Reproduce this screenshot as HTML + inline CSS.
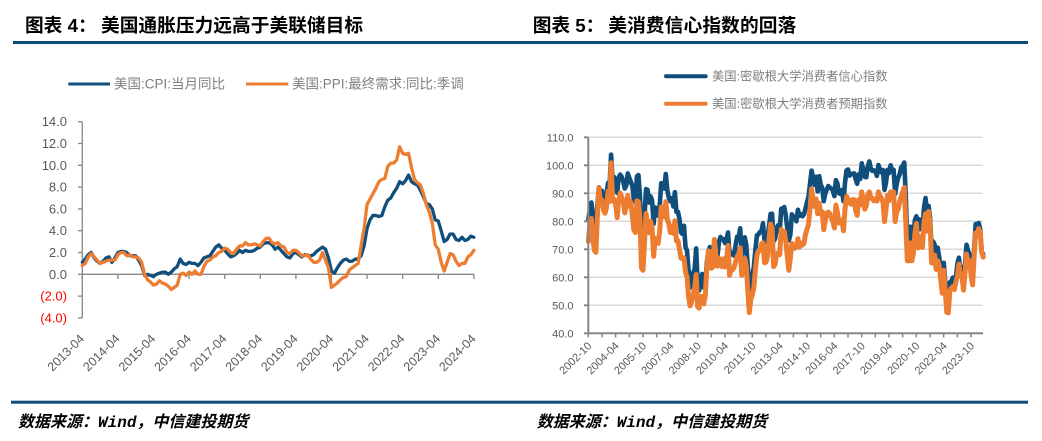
<!DOCTYPE html>
<html>
<head>
<meta charset="utf-8">
<style>
html,body{margin:0;padding:0;background:#fff;}
svg{display:block;}
text{font-family:"Liberation Sans","Noto Sans CJK SC",sans-serif;}
</style>
</head>
<body>
<svg width="1042" height="441" viewBox="0 0 1042 441" xmlns="http://www.w3.org/2000/svg">
<rect width="1042" height="441" fill="#fff"/>

<!-- Titles -->
<text x="25" y="32" font-size="18.7" font-weight="bold" fill="#000">图表 4：</text>
<text x="101" y="32" font-size="18.7" font-weight="bold" fill="#000" textLength="262" lengthAdjust="spacing">美国通胀压力远高于美联储目标</text>
<text x="532.7" y="32" font-size="18.7" font-weight="bold" fill="#000">图表 5：</text>
<text x="608.3" y="32" font-size="18.7" font-weight="bold" fill="#000" textLength="188" lengthAdjust="spacing">美消费信心指数的回落</text>

<rect x="13" y="41" width="1015" height="3" fill="#0f4c7a"/>
<rect x="11" y="400.7" width="1017" height="3" fill="#0f4c7a"/>

<!-- Source -->
<text x="18" y="427" font-size="16" font-weight="bold" font-style="italic" fill="#000">数据来源：<tspan font-family="'Liberation Mono',monospace">Wind</tspan>，中信建投期货</text>
<text x="536.7" y="427" font-size="16" font-weight="bold" font-style="italic" fill="#000">数据来源：<tspan font-family="'Liberation Mono',monospace">Wind</tspan>，中信建投期货</text>

<!-- ===== LEFT CHART ===== -->
<line x1="68.3" y1="84" x2="110" y2="84" stroke="#104e7c" stroke-width="3"/>
<text x="114" y="88.7" font-size="13.5" fill="#7f7f7f">美国:CPI:当月同比</text>
<line x1="246" y1="84" x2="288.3" y2="84" stroke="#ed7d31" stroke-width="3"/>
<text x="292" y="88.7" font-size="13.5" fill="#7f7f7f">美国:PPI:最终需求:同比:季调</text>

<g font-size="13" text-anchor="end">
<text x="67" y="126.2" fill="#595959">14.0</text>
<text x="67" y="148" fill="#595959">12.0</text>
<text x="67" y="169.8" fill="#595959">10.0</text>
<text x="67" y="191.6" fill="#595959">8.0</text>
<text x="67" y="213.4" fill="#595959">6.0</text>
<text x="67" y="235.2" fill="#595959">4.0</text>
<text x="67" y="257" fill="#595959">2.0</text>
<text x="67" y="278.8" fill="#595959">0.0</text>
<text x="67" y="300.6" fill="#ff0000">(2.0)</text>
<text x="67" y="322.4" fill="#ff0000">(4.0)</text>
</g>

<g stroke="#868686" stroke-width="1.3" fill="none">
<line x1="82.3" y1="121.7" x2="82.3" y2="318.1"/>
<line x1="78" y1="121.7" x2="82.3" y2="121.7"/>
<line x1="78" y1="143.5" x2="82.3" y2="143.5"/>
<line x1="78" y1="165.3" x2="82.3" y2="165.3"/>
<line x1="78" y1="187.1" x2="82.3" y2="187.1"/>
<line x1="78" y1="208.9" x2="82.3" y2="208.9"/>
<line x1="78" y1="230.7" x2="82.3" y2="230.7"/>
<line x1="78" y1="252.5" x2="82.3" y2="252.5"/>
<line x1="78" y1="274.3" x2="82.3" y2="274.3"/>
<line x1="78" y1="296.1" x2="82.3" y2="296.1"/>
<line x1="78" y1="317.9" x2="82.3" y2="317.9"/>
<line x1="82.3" y1="274.3" x2="474" y2="274.3"/>
<line x1="82.3" y1="274.3" x2="82.3" y2="279"/>
<line x1="117.9" y1="274.3" x2="117.9" y2="279"/>
<line x1="153.5" y1="274.3" x2="153.5" y2="279"/>
<line x1="189.1" y1="274.3" x2="189.1" y2="279"/>
<line x1="224.7" y1="274.3" x2="224.7" y2="279"/>
<line x1="260.3" y1="274.3" x2="260.3" y2="279"/>
<line x1="295.9" y1="274.3" x2="295.9" y2="279"/>
<line x1="331.5" y1="274.3" x2="331.5" y2="279"/>
<line x1="367.1" y1="274.3" x2="367.1" y2="279"/>
<line x1="402.7" y1="274.3" x2="402.7" y2="279"/>
<line x1="438.3" y1="274.3" x2="438.3" y2="279"/>
<line x1="473.9" y1="274.3" x2="473.9" y2="279"/>
</g>

<g font-size="12.5" fill="#595959" text-anchor="end">
<text transform="translate(85,339.5) rotate(-45)">2013-04</text>
<text transform="translate(120.6,339.5) rotate(-45)">2014-04</text>
<text transform="translate(156.2,339.5) rotate(-45)">2015-04</text>
<text transform="translate(191.8,339.5) rotate(-45)">2016-04</text>
<text transform="translate(227.4,339.5) rotate(-45)">2017-04</text>
<text transform="translate(263,339.5) rotate(-45)">2018-04</text>
<text transform="translate(298.6,339.5) rotate(-45)">2019-04</text>
<text transform="translate(334.2,339.5) rotate(-45)">2020-04</text>
<text transform="translate(369.8,339.5) rotate(-45)">2021-04</text>
<text transform="translate(405.4,339.5) rotate(-45)">2022-04</text>
<text transform="translate(441,339.5) rotate(-45)">2023-04</text>
<text transform="translate(476.6,339.5) rotate(-45)">2024-04</text>
</g>

<g transform="matrix(2.966 0 0 -10.9 82.3 274.3)" fill="none" stroke-linejoin="round" stroke-linecap="round">
<polyline vector-effect="non-scaling-stroke" stroke="#104e7c" stroke-width="3.3" points="0,1.1 1,1.4 2,1.8 3,2.0 4,1.5 5,1.2 6,1.0 7,1.2 8,1.5 9,1.6 10,1.1 11,1.5 12,2.0 13,2.1 14,2.1 15,2.0 16,1.7 17,1.7 18,1.7 19,1.3 20,0.8 21,-0.1 22,0.0 23,-0.1 24,-0.2 25,0.0 26,0.1 27,0.2 28,0.2 29,0.0 30,0.2 31,0.5 32,0.7 33,1.4 34,1.0 35,0.9 36,1.1 37,1.0 38,1.0 39,0.8 40,1.1 41,1.5 42,1.6 43,1.7 44,2.1 45,2.5 46,2.7 47,2.4 48,2.2 49,1.9 50,1.6 51,1.7 52,1.9 53,2.2 54,2.0 55,2.2 56,2.1 57,2.1 58,2.2 59,2.4 60,2.5 61,2.8 62,2.9 63,2.9 64,2.7 65,2.3 66,2.5 67,2.2 68,1.9 69,1.6 70,1.5 71,1.9 72,2.0 73,1.8 74,1.6 75,1.8 76,1.7 77,1.7 78,1.8 79,2.1 80,2.3 81,2.5 82,2.3 83,1.5 84,0.3 85,0.1 86,0.6 87,1.0 88,1.3 89,1.4 90,1.2 91,1.2 92,1.4 93,1.4 94,1.7 95,2.6 96,4.2 97,5.0 98,5.4 99,5.4 100,5.3 101,5.4 102,6.2 103,6.8 104,7.0 105,7.5 106,7.9 107,8.5 108,8.3 109,8.6 110,9.1 111,8.5 112,8.3 113,8.2 114,7.7 115,7.1 116,6.5 117,6.4 118,6.0 119,5.0 120,4.9 121,4.0 122,3.0 123,3.2 124,3.7 125,3.7 126,3.2 127,3.1 128,3.4 129,3.1 130,3.2 131,3.5 132,3.4"/>
<polyline vector-effect="non-scaling-stroke" stroke="#ed7d31" stroke-width="3.3" points="0,0.8 1,1.0 2,1.6 3,1.9 4,1.6 5,1.3 6,1.0 7,1.1 8,1.2 9,1.3 10,1.3 11,1.3 12,1.8 13,2.0 14,2.0 15,1.7 16,1.8 17,1.6 18,1.6 19,1.5 20,1.1 21,0.0 22,-0.5 23,-0.7 24,-1.0 25,-0.9 26,-0.6 27,-0.8 28,-0.9 29,-1.1 30,-1.4 31,-1.2 32,-1.0 33,0.0 34,0.1 35,-0.1 36,0.2 37,0.0 38,0.3 39,0.0 40,0.0 41,0.7 42,1.2 43,1.3 44,1.6 45,1.7 46,2.0 47,2.1 48,2.4 49,2.3 50,2.0 51,1.9 52,2.3 53,2.6 54,2.6 55,2.9 56,2.7 57,2.7 58,2.8 59,2.7 60,2.6 61,3.0 62,3.3 63,3.3 64,2.9 65,2.8 66,2.9 67,2.6 68,2.5 69,2.0 70,1.9 71,2.2 72,2.2 73,2.0 74,1.7 75,1.7 76,1.8 77,1.4 78,1.1 79,1.1 80,1.3 81,2.0 82,1.3 83,0.6 84,-1.2 85,-1.0 86,-0.8 87,-0.5 88,-0.3 89,-0.2 90,0.4 91,0.6 92,0.8 93,1.0 94,2.6 95,4.2 96,6.4 97,6.9 98,7.4 99,7.9 100,8.5 101,8.7 102,8.8 103,9.9 104,10.2 105,10.2 106,10.5 107,11.7 108,11.1 109,11.0 110,11.1 111,9.8 112,8.7 113,8.4 114,8.2 115,7.4 116,6.4 117,5.7 118,4.7 119,2.7 120,2.3 121,1.1 122,0.3 123,1.1 124,1.9 125,1.8 126,1.2 127,0.8 128,1.0 129,1.0 130,1.6 131,1.8 132,2.2"/>
</g>

<!-- ===== RIGHT CHART ===== -->
<line x1="666" y1="76.3" x2="705.7" y2="76.3" stroke="#104e7c" stroke-width="4" stroke-linecap="round"/>
<text x="712" y="80.6" font-size="12.3" fill="#7f7f7f">美国:密歇根大学消费者信心指数</text>
<line x1="666" y1="103.7" x2="705.7" y2="103.7" stroke="#ed7d31" stroke-width="4" stroke-linecap="round"/>
<text x="712" y="108" font-size="12.3" fill="#7f7f7f">美国:密歇根大学消费者预期指数</text>

<g stroke="#d9d9d9" stroke-width="1.5">
<line x1="588.3" y1="137.3" x2="983" y2="137.3"/>
<line x1="588.3" y1="165.3" x2="983" y2="165.3"/>
<line x1="588.3" y1="193.3" x2="983" y2="193.3"/>
<line x1="588.3" y1="221.3" x2="983" y2="221.3"/>
<line x1="588.3" y1="249.3" x2="983" y2="249.3"/>
<line x1="588.3" y1="277.3" x2="983" y2="277.3"/>
<line x1="588.3" y1="305.3" x2="983" y2="305.3"/>
</g>

<g font-size="11" fill="#595959" text-anchor="end">
<text x="573.5" y="141.3">110.0</text>
<text x="573.5" y="169.3">100.0</text>
<text x="573.5" y="197.3">90.0</text>
<text x="573.5" y="225.3">80.0</text>
<text x="573.5" y="253.3">70.0</text>
<text x="573.5" y="281.3">60.0</text>
<text x="573.5" y="309.3">50.0</text>
<text x="573.5" y="337.3">40.0</text>
</g>

<g transform="matrix(1.519 0 0 -2.8 588.3 445.3)" fill="none" stroke-linejoin="round" stroke-linecap="round">
<polyline vector-effect="non-scaling-stroke" stroke="#104e7c" stroke-width="4.6" points="0,80.6 1,84.2 2,86.7 3,82.4 4,79.9 5,77.6 6,86.0 7,92.1 8,89.7 9,90.9 10,89.3 11,87.7 12,89.6 13,93.7 14,92.6 15,103.8 16,94.4 17,95.8 18,94.2 19,90.2 20,95.6 21,96.7 22,95.9 23,94.2 24,91.7 25,92.8 26,97.1 27,95.5 28,94.1 29,92.6 30,87.7 31,86.9 32,96.0 33,96.5 34,89.1 35,76.9 36,74.2 37,81.6 38,91.5 39,91.2 40,86.7 41,88.9 42,87.4 43,79.1 44,84.9 45,84.7 46,82.0 47,85.4 48,93.6 49,92.1 50,91.7 51,96.9 52,91.3 53,88.4 54,87.1 55,88.3 56,85.3 57,90.4 58,83.4 59,83.4 60,80.9 61,76.1 62,75.5 63,78.4 64,70.8 65,69.5 66,62.6 67,59.8 68,56.4 69,61.2 70,63.0 71,70.3 72,57.6 73,55.3 74,60.1 75,61.2 76,56.3 77,57.3 78,65.1 79,68.7 80,70.8 81,66.0 82,65.7 83,73.5 84,70.6 85,67.4 86,72.5 87,74.4 88,73.6 89,73.6 90,72.2 91,73.6 92,76.0 93,67.8 94,68.9 95,68.2 96,67.7 97,71.6 98,74.5 99,74.2 100,77.5 101,67.5 102,69.8 103,74.3 104,71.5 105,63.7 106,55.8 107,59.5 108,60.8 109,63.7 110,69.9 111,75.0 112,75.3 113,76.2 114,76.4 115,79.3 116,73.2 117,72.3 118,74.3 119,78.3 120,82.6 121,82.7 122,72.9 123,73.8 124,77.6 125,78.6 126,76.4 127,84.5 128,84.1 129,85.1 130,82.1 131,77.5 132,73.2 133,75.1 134,82.5 135,81.2 136,81.6 137,80.0 138,84.1 139,81.9 140,82.5 141,81.8 142,82.5 143,84.6 144,86.9 145,88.8 146,93.6 147,98.1 148,95.4 149,93.0 150,95.9 151,90.7 152,96.1 153,93.1 154,91.9 155,87.2 156,90.0 157,91.3 158,92.6 159,92.0 160,91.7 161,91.0 162,89.0 163,94.7 164,93.5 165,90.0 166,89.8 167,91.2 168,87.2 169,93.8 170,98.2 171,98.5 172,96.3 173,96.9 174,97.0 175,97.1 176,95.1 177,93.4 178,96.8 179,95.1 180,100.7 181,98.5 182,95.9 183,95.7 184,99.7 185,101.4 186,98.8 187,98.0 188,98.2 189,97.9 190,96.2 191,100.1 192,98.6 193,97.5 194,98.3 195,91.2 196,93.8 197,98.4 198,97.2 199,100.0 200,98.2 201,98.4 202,89.8 203,93.2 204,95.5 205,96.8 206,99.3 207,99.8 208,101.0 209,89.1 210,71.8 211,72.3 212,78.1 213,72.5 214,74.1 215,80.4 216,81.8 217,76.9 218,80.7 219,79.0 220,76.8 221,84.9 222,88.3 223,82.9 224,85.5 225,81.2 226,70.3 227,72.8 228,71.7 229,67.4 230,70.6 231,67.2 232,62.8 233,59.4 234,65.2 235,58.4 236,50.0 237,51.5 238,58.2 239,58.6 240,59.9 241,56.8 242,59.7 243,64.9 244,67.0 245,62.0 246,63.7 247,59.0 248,64.4 249,71.6 250,69.5 251,68.1 252,63.8 253,61.3 254,69.7 255,79.0 256,76.9 257,79.4 258,77.2 259,69.1 260,68.2"/>
<polyline vector-effect="non-scaling-stroke" stroke="#ed7d31" stroke-width="5" points="0,72.8 1,78.6 2,81.0 3,73.5 4,69.6 5,68.9 6,82.2 7,91.9 8,86.4 9,87.6 10,84.1 11,82.9 12,85.0 13,90.7 14,87.1 15,100.9 16,87.3 17,87.8 18,86.0 19,81.3 20,87.4 21,90.1 22,88.6 23,87.2 24,83.0 25,85.1 26,89.2 27,86.6 28,86.8 29,82.0 30,77.0 31,76.0 32,87.3 33,87.0 34,80.8 35,63.3 36,62.5 37,72.4 38,82.8 39,79.3 40,75.9 41,80.0 42,77.5 43,67.5 44,73.9 45,73.3 46,72.1 47,76.4 48,85.1 49,82.6 50,81.6 51,87.0 52,80.8 53,79.1 54,76.0 55,78.2 56,75.7 57,80.2 58,73.0 59,73.1 60,70.1 61,66.9 62,66.6 63,67.0 64,61.8 65,60.1 66,53.3 67,49.8 68,51.1 69,53.5 70,56.2 71,61.0 72,49.5 73,49.0 74,53.2 75,53.1 76,50.5 77,53.5 78,63.1 79,69.4 80,69.2 81,63.2 82,63.7 83,73.5 84,68.0 85,64.0 86,66.8 87,66.2 88,63.8 89,66.6 90,63.7 91,66.5 92,71.4 93,60.7 94,62.6 95,62.7 96,63.6 97,65.6 98,67.4 99,68.3 100,70.5 101,60.7 102,62.1 103,66.7 104,64.1 105,55.4 106,47.4 107,52.2 108,53.8 109,56.4 110,62.7 111,67.8 112,69.5 113,69.6 114,71.9 115,72.3 116,65.2 117,65.4 118,67.4 119,73.5 120,79.0 121,77.6 122,63.8 123,64.7 124,68.2 125,68.8 126,68.1 127,77.1 128,75.4 129,76.4 130,73.0 131,67.5 132,62.5 133,66.8 134,72.1 135,70.3 136,70.4 137,71.1 138,73.8 139,70.8 140,72.2 141,71.5 142,72.2 143,75.4 144,77.1 145,79.0 146,84.6 147,91.6 148,87.5 149,85.3 150,88.0 151,82.7 152,86.4 153,82.6 154,83.4 155,77.0 156,80.3 157,83.0 158,83.3 159,82.7 160,81.2 161,80.0 162,77.6 163,85.8 164,83.2 165,79.4 166,79.4 167,80.5 168,76.6 169,84.3 170,88.9 171,87.8 172,86.5 173,86.1 174,87.7 175,87.7 176,83.9 177,82.1 178,87.7 179,85.9 180,90.5 181,87.6 182,84.3 183,85.6 184,89.5 185,90.5 186,88.2 187,88.3 188,87.3 189,87.6 190,87.2 191,90.5 192,89.1 193,88.2 194,87.0 195,79.9 196,84.4 197,89.3 198,87.4 199,90.5 200,89.3 201,90.5 202,79.9 203,83.4 204,84.2 205,87.0 206,88.9 207,90.5 208,92.1 209,79.7 210,65.9 211,65.9 212,72.3 213,65.9 214,68.5 215,75.6 216,79.2 217,70.5 218,74.6 219,74.0 220,70.7 221,79.7 222,82.7 223,76.5 224,83.5 225,79.0 226,65.1 227,68.1 228,67.9 229,62.8 230,65.9 231,64.1 232,59.4 233,54.3 234,62.5 235,55.2 236,47.5 237,47.3 238,55.1 239,56.2 240,56.7 241,55.6 242,58.4 243,60.4 244,64.7 245,60.4 246,60.5 247,55.4 248,61.5 249,68.3 250,65.1 251,66.0 252,60.7 253,57.3 254,67.4 255,75.9 256,74.6 257,77.4 258,76.0 259,68.8 260,67.2"/>
</g>

<g stroke="#868686" stroke-width="2" fill="none">
<line x1="588.3" y1="137.3" x2="588.3" y2="334.3"/>
<line x1="584" y1="137.3" x2="588.3" y2="137.3"/>
<line x1="584" y1="165.3" x2="588.3" y2="165.3"/>
<line x1="584" y1="193.3" x2="588.3" y2="193.3"/>
<line x1="584" y1="221.3" x2="588.3" y2="221.3"/>
<line x1="584" y1="249.3" x2="588.3" y2="249.3"/>
<line x1="584" y1="277.3" x2="588.3" y2="277.3"/>
<line x1="584" y1="305.3" x2="588.3" y2="305.3"/>
<line x1="584" y1="333.3" x2="588.3" y2="333.3"/>
<line x1="587.3" y1="333.3" x2="983" y2="333.3"/>
</g>
<g stroke="#868686" stroke-width="1.5">
<line x1="588.3" y1="333.3" x2="588.3" y2="337.5"/>
<line x1="602" y1="333.3" x2="602" y2="337.5"/>
<line x1="615.6" y1="333.3" x2="615.6" y2="337.5"/>
<line x1="629.3" y1="333.3" x2="629.3" y2="337.5"/>
<line x1="643" y1="333.3" x2="643" y2="337.5"/>
<line x1="656.7" y1="333.3" x2="656.7" y2="337.5"/>
<line x1="670.3" y1="333.3" x2="670.3" y2="337.5"/>
<line x1="684" y1="333.3" x2="684" y2="337.5"/>
<line x1="697.7" y1="333.3" x2="697.7" y2="337.5"/>
<line x1="711.3" y1="333.3" x2="711.3" y2="337.5"/>
<line x1="725" y1="333.3" x2="725" y2="337.5"/>
<line x1="738.7" y1="333.3" x2="738.7" y2="337.5"/>
<line x1="752.3" y1="333.3" x2="752.3" y2="337.5"/>
<line x1="766" y1="333.3" x2="766" y2="337.5"/>
<line x1="779.7" y1="333.3" x2="779.7" y2="337.5"/>
<line x1="793.3" y1="333.3" x2="793.3" y2="337.5"/>
<line x1="807" y1="333.3" x2="807" y2="337.5"/>
<line x1="820.7" y1="333.3" x2="820.7" y2="337.5"/>
<line x1="834.3" y1="333.3" x2="834.3" y2="337.5"/>
<line x1="848" y1="333.3" x2="848" y2="337.5"/>
<line x1="861.7" y1="333.3" x2="861.7" y2="337.5"/>
<line x1="875.3" y1="333.3" x2="875.3" y2="337.5"/>
<line x1="889" y1="333.3" x2="889" y2="337.5"/>
<line x1="902.7" y1="333.3" x2="902.7" y2="337.5"/>
<line x1="916.3" y1="333.3" x2="916.3" y2="337.5"/>
<line x1="930" y1="333.3" x2="930" y2="337.5"/>
<line x1="943.7" y1="333.3" x2="943.7" y2="337.5"/>
<line x1="957.3" y1="333.3" x2="957.3" y2="337.5"/>
<line x1="971" y1="333.3" x2="971" y2="337.5"/>
</g>

<g font-size="11" fill="#595959" text-anchor="end">
<text transform="translate(592.3,346.5) rotate(-45)">2002-10</text>
<text transform="translate(619.6,346.5) rotate(-45)">2004-04</text>
<text transform="translate(647,346.5) rotate(-45)">2005-10</text>
<text transform="translate(674.3,346.5) rotate(-45)">2007-04</text>
<text transform="translate(701.7,346.5) rotate(-45)">2008-10</text>
<text transform="translate(729,346.5) rotate(-45)">2010-04</text>
<text transform="translate(756.3,346.5) rotate(-45)">2011-10</text>
<text transform="translate(783.7,346.5) rotate(-45)">2013-04</text>
<text transform="translate(811,346.5) rotate(-45)">2014-10</text>
<text transform="translate(838.3,346.5) rotate(-45)">2016-04</text>
<text transform="translate(865.7,346.5) rotate(-45)">2017-10</text>
<text transform="translate(893,346.5) rotate(-45)">2019-04</text>
<text transform="translate(920.3,346.5) rotate(-45)">2020-10</text>
<text transform="translate(947.7,346.5) rotate(-45)">2022-04</text>
<text transform="translate(975,346.5) rotate(-45)">2023-10</text>
</g>
</svg>
</body>
</html>
